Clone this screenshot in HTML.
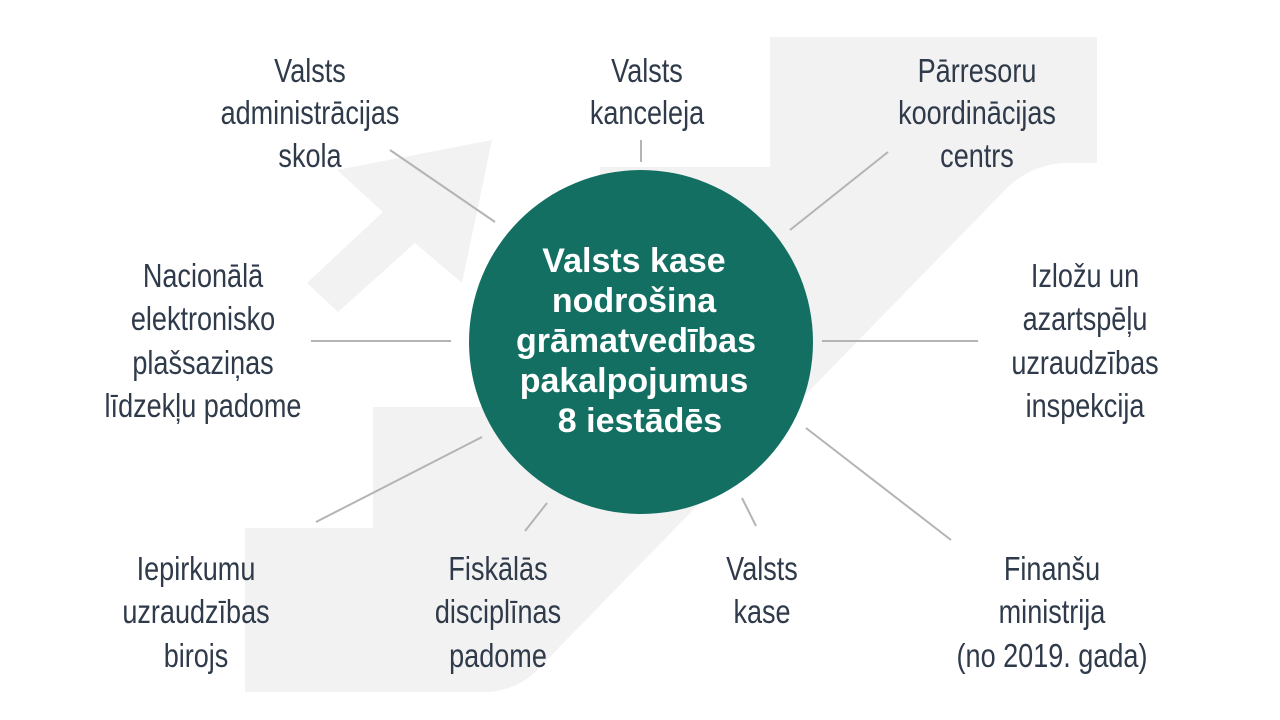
<!DOCTYPE html>
<html><head><meta charset="utf-8"><style>
html,body{margin:0;padding:0;background:#fff;}
svg{display:block;}
.l{font-family:"Liberation Sans",sans-serif;font-size:33px;fill:#2f3a4a;text-anchor:middle;}
.c{font-family:"Liberation Sans",sans-serif;font-weight:bold;font-size:34px;fill:#fff;text-anchor:middle;}
</style></head><body>
<svg width="1280" height="720" viewBox="0 0 1280 720" xmlns="http://www.w3.org/2000/svg">
<path d="M245,692 L245,528 L373,528 L373,407 L600,407 L600,167 L770,167 L770,37 L1097,37 L1097,163 L1062,163 Q1030,166 1008,187 L540,667 Q522,688 490,692 Z" fill="#f2f2f2"/>
<path d="M492,140 L337,170 L383,212 L307,283 L338,312 L415,243 L462,283 Z" fill="#f2f2f2"/>
<g stroke="#b4b4b4" stroke-width="2" fill="none">
<line x1="390" y1="150" x2="495" y2="222"/>
<line x1="641" y1="140" x2="641" y2="162"/>
<line x1="888" y1="152" x2="790" y2="230"/>
<line x1="311" y1="341" x2="451" y2="341"/>
<line x1="822" y1="341" x2="978" y2="341"/>
<line x1="316" y1="522" x2="482" y2="437"/>
<line x1="525" y1="531" x2="547" y2="503"/>
<line x1="742" y1="498" x2="756" y2="526"/>
<line x1="806" y1="428" x2="951" y2="540"/>
</g>
<circle cx="641" cy="342" r="172" fill="#146f63"/>
<text class="c" x="634" y="272">Valsts kase</text>
<text class="c" x="634" y="312">nodrošina</text>
<text class="c" x="636" y="352">grāmatvedības</text>
<text class="c" x="634" y="392">pakalpojumus</text>
<text class="c" x="640" y="432">8 iestādēs</text>
<g class="l">
<text transform="translate(310,82) scale(0.82,1)">Valsts</text><text transform="translate(310,124) scale(0.82,1)">administrācijas</text><text transform="translate(310,167) scale(0.82,1)">skola</text>
<text transform="translate(647,82) scale(0.82,1)">Valsts</text><text transform="translate(647,124) scale(0.82,1)">kanceleja</text>
<text transform="translate(977,82) scale(0.82,1)">Pārresoru</text><text transform="translate(977,124) scale(0.82,1)">koordinācijas</text><text transform="translate(977,167) scale(0.82,1)">centrs</text>
<text transform="translate(203,287) scale(0.82,1)">Nacionālā</text><text transform="translate(203,330) scale(0.82,1)">elektronisko</text><text transform="translate(203,374) scale(0.82,1)">plašsaziņas</text><text transform="translate(203,417) scale(0.82,1)">līdzekļu padome</text>
<text transform="translate(1085,287) scale(0.82,1)">Izložu un</text><text transform="translate(1085,330) scale(0.82,1)">azartspēļu</text><text transform="translate(1085,374) scale(0.82,1)">uzraudzības</text><text transform="translate(1085,417) scale(0.82,1)">inspekcija</text>
<text transform="translate(196,580) scale(0.82,1)">Iepirkumu</text><text transform="translate(196,623) scale(0.82,1)">uzraudzības</text><text transform="translate(196,667) scale(0.82,1)">birojs</text>
<text transform="translate(498,580) scale(0.82,1)">Fiskālās</text><text transform="translate(498,623) scale(0.82,1)">disciplīnas</text><text transform="translate(498,667) scale(0.82,1)">padome</text>
<text transform="translate(762,580) scale(0.82,1)">Valsts</text><text transform="translate(762,623) scale(0.82,1)">kase</text>
<text transform="translate(1052,580) scale(0.82,1)">Finanšu</text><text transform="translate(1052,623) scale(0.82,1)">ministrija</text><text transform="translate(1052,667) scale(0.82,1)">(no 2019. gada)</text>
</g>
</svg>
</body></html>
